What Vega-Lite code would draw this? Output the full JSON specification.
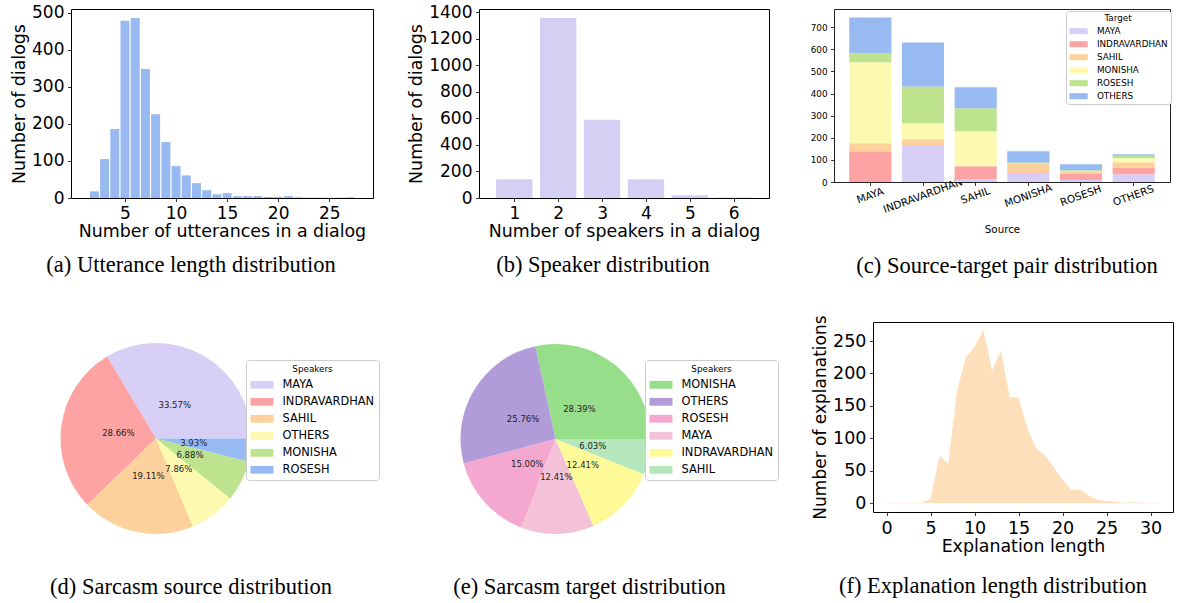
{
  "$schema": "https://vega.github.io/schema/vega-lite/v6.json",
  "background": "white",
  "padding": {"left": 10, "top": 2, "right": 0, "bottom": 0},
  "autosize": {"type": "pad"},
  "spacing": 35,
  "resolve": {"scale": {"color": "independent", "theta": "independent"}, "legend": {"color": "independent"}},
  "vconcat": [
    {
      "spacing": 33,
      "resolve": {"scale": {"color": "independent"}, "legend": {"color": "independent"}},
      "hconcat": [
        {
          "width": 302, "height": 189,
          "view": {"stroke": "#000", "strokeWidth": 1},
          "title": {"text": "(a) Utterance length distribution", "dx": -31, "offset": 15},
          "data": {"values": [
            {"utterances": 2, "dialogs": 18}, {"utterances": 3, "dialogs": 105}, {"utterances": 4, "dialogs": 186},
            {"utterances": 5, "dialogs": 478}, {"utterances": 6, "dialogs": 486}, {"utterances": 7, "dialogs": 348},
            {"utterances": 8, "dialogs": 226}, {"utterances": 9, "dialogs": 151}, {"utterances": 10, "dialogs": 86},
            {"utterances": 11, "dialogs": 61}, {"utterances": 12, "dialogs": 40}, {"utterances": 13, "dialogs": 21},
            {"utterances": 14, "dialogs": 10}, {"utterances": 15, "dialogs": 13}, {"utterances": 16, "dialogs": 5},
            {"utterances": 17, "dialogs": 5}, {"utterances": 18, "dialogs": 5}, {"utterances": 19, "dialogs": 3},
            {"utterances": 20, "dialogs": 3}, {"utterances": 21, "dialogs": 5}, {"utterances": 22, "dialogs": 2},
            {"utterances": 23, "dialogs": 1}, {"utterances": 24, "dialogs": 1}, {"utterances": 25, "dialogs": 1},
            {"utterances": 26, "dialogs": 1}, {"utterances": 27, "dialogs": 2}
          ]},
          "mark": {"type": "bar", "width": 9, "color": "#98b9f1"},
          "encoding": {
            "x": {"field": "utterances", "type": "quantitative",
                  "scale": {"domain": [0.2, 28.8], "nice": false, "zero": false},
                  "axis": {"values": [5, 10, 15, 20, 25], "title": "Number of utterances in a dialog", "labelFontSize": 17, "titleFontSize": 17.4, "titlePadding": 1}},
            "y": {"field": "dialogs", "type": "quantitative",
                  "scale": {"domain": [0, 510], "nice": false},
                  "axis": {"values": [0, 100, 200, 300, 400, 500], "title": "Number of dialogs", "labelFontSize": 17, "titleFontSize": 17.4}}
          }
        },
        {
          "spacing": 39,
          "resolve": {"scale": {"color": "independent"}, "legend": {"color": "independent"}},
          "hconcat": [
            {
              "width": 290, "height": 189,
              "view": {"stroke": "#000", "strokeWidth": 1},
              "title": {"text": "(b) Speaker distribution", "dx": -21, "offset": 15},
              "data": {"values": [
                {"speakers": 1, "dialogs": 142}, {"speakers": 2, "dialogs": 1355}, {"speakers": 3, "dialogs": 589},
                {"speakers": 4, "dialogs": 142}, {"speakers": 5, "dialogs": 20}, {"speakers": 6, "dialogs": 3}
              ]},
              "mark": {"type": "bar", "width": 36.4, "color": "#d6cff4"},
              "encoding": {
                "x": {"field": "speakers", "type": "quantitative",
                      "scale": {"domain": [0.31, 6.69], "nice": false, "zero": false},
                      "axis": {"values": [1, 2, 3, 4, 5, 6], "title": "Number of speakers in a dialog", "labelFontSize": 17, "titleFontSize": 17.4, "titlePadding": 1}},
                "y": {"field": "dialogs", "type": "quantitative",
                      "scale": {"domain": [0, 1423], "nice": false},
                      "axis": {"values": [0, 200, 400, 600, 800, 1000, 1200, 1400], "format": "d", "title": "Number of dialogs", "labelFontSize": 17, "titleFontSize": 17.4}}
              }
            },
            {
              "width": 336, "height": 173,
              "view": {"stroke": "#222", "strokeWidth": 1},
              "title": {"text": "(c) Source-target pair distribution", "dx": 5, "offset": 20},
              "data": {"values": [
                {"Source": "MAYA", "Target": "MAYA", "count": 0},
                {"Source": "MAYA", "Target": "INDRAVARDHAN", "count": 139},
                {"Source": "MAYA", "Target": "SAHIL", "count": 36},
                {"Source": "MAYA", "Target": "MONISHA", "count": 366},
                {"Source": "MAYA", "Target": "ROSESH", "count": 40},
                {"Source": "MAYA", "Target": "OTHERS", "count": 163},
                {"Source": "INDRAVARDHAN", "Target": "MAYA", "count": 163},
                {"Source": "INDRAVARDHAN", "Target": "INDRAVARDHAN", "count": 0},
                {"Source": "INDRAVARDHAN", "Target": "SAHIL", "count": 30},
                {"Source": "INDRAVARDHAN", "Target": "MONISHA", "count": 72},
                {"Source": "INDRAVARDHAN", "Target": "ROSESH", "count": 167},
                {"Source": "INDRAVARDHAN", "Target": "OTHERS", "count": 199},
                {"Source": "SAHIL", "Target": "MAYA", "count": 12},
                {"Source": "SAHIL", "Target": "INDRAVARDHAN", "count": 59},
                {"Source": "SAHIL", "Target": "SAHIL", "count": 0},
                {"Source": "SAHIL", "Target": "MONISHA", "count": 158},
                {"Source": "SAHIL", "Target": "ROSESH", "count": 104},
                {"Source": "SAHIL", "Target": "OTHERS", "count": 95},
                {"Source": "MONISHA", "Target": "MAYA", "count": 40},
                {"Source": "MONISHA", "Target": "INDRAVARDHAN", "count": 4},
                {"Source": "MONISHA", "Target": "SAHIL", "count": 37},
                {"Source": "MONISHA", "Target": "MONISHA", "count": 2},
                {"Source": "MONISHA", "Target": "ROSESH", "count": 5},
                {"Source": "MONISHA", "Target": "OTHERS", "count": 51},
                {"Source": "ROSESH", "Target": "MAYA", "count": 9},
                {"Source": "ROSESH", "Target": "INDRAVARDHAN", "count": 27},
                {"Source": "ROSESH", "Target": "SAHIL", "count": 9},
                {"Source": "ROSESH", "Target": "MONISHA", "count": 3},
                {"Source": "ROSESH", "Target": "ROSESH", "count": 5},
                {"Source": "ROSESH", "Target": "OTHERS", "count": 27},
                {"Source": "OTHERS", "Target": "MAYA", "count": 35},
                {"Source": "OTHERS", "Target": "INDRAVARDHAN", "count": 31},
                {"Source": "OTHERS", "Target": "SAHIL", "count": 23},
                {"Source": "OTHERS", "Target": "MONISHA", "count": 18},
                {"Source": "OTHERS", "Target": "ROSESH", "count": 12},
                {"Source": "OTHERS", "Target": "OTHERS", "count": 6}
              ]},
              "transform": [
                {"calculate": "indexof(['MAYA','INDRAVARDHAN','SAHIL','MONISHA','ROSESH','OTHERS'], datum.Target)", "as": "target_rank"}
              ],
              "mark": {"type": "bar"},
              "encoding": {
                "x": {"field": "Source", "type": "nominal",
                      "sort": ["MAYA", "INDRAVARDHAN", "SAHIL", "MONISHA", "ROSESH", "OTHERS"],
                      "scale": {"paddingInner": 0.2, "paddingOuter": 0.29},
                      "axis": {"title": "Source", "labelAngle": -20, "labelAlign": "center", "labelBaseline": "middle",
                               "labelFontSize": 10.4, "titleFontSize": 10.3, "labelPadding": 10, "titlePadding": 10,
                               "encode": {"labels": {"update": {"dy": {"signal": "length(datum.label)*1.2"}, "dx": {"signal": "-length(datum.label)*0.44"}}}}}},
                "y": {"field": "count", "type": "quantitative", "stack": "zero",
                      "scale": {"domain": [0, 782], "nice": false},
                      "axis": {"values": [0, 100, 200, 300, 400, 500, 600, 700], "title": null, "labelFontSize": 8.8}},
                "color": {"field": "Target", "type": "nominal",
                          "scale": {"domain": ["MAYA", "INDRAVARDHAN", "SAHIL", "MONISHA", "ROSESH", "OTHERS"],
                                    "range": ["#d7cff5", "#fea3a3", "#fdd19b", "#fef9b1", "#bde38e", "#98baf2"]},
                          "legend": {"title": "Target", "legendX": 232, "legendY": 2, "titleFontSize": 8.8, "titlePadding": 4,
                                     "labelFontSize": 8.8, "symbolType": "M-2.29,-0.75H2.29V0.75H-2.29Z", "symbolSize": 64,
                                     "symbolOffset": 5.15, "labelOffset": 14, "rowPadding": 3, "padding": 3}},
                "order": {"field": "target_rank", "type": "quantitative", "sort": "ascending"}
              }
            }
          ]
        }
      ]
    },
    {
      "spacing": 32,
      "resolve": {"scale": {"color": "independent", "theta": "independent"}, "legend": {"color": "independent"}},
      "hconcat": [
        {
          "width": 170, "height": 233,
          "title": {"text": "(d) Sarcasm source distribution", "dx": 35, "offset": 21},
          "data": {"values": [
            {"speaker": "MAYA", "share": 0.3357},
            {"speaker": "INDRAVARDHAN", "share": 0.2866},
            {"speaker": "SAHIL", "share": 0.1911},
            {"speaker": "OTHERS", "share": 0.0786},
            {"speaker": "MONISHA", "share": 0.0688},
            {"speaker": "ROSESH", "share": 0.0393}
          ]},
          "encoding": {
            "theta": {"field": "share", "type": "quantitative", "stack": true, "scale": {"range": [1.5708, -4.7124]}},
            "color": {"field": "speaker", "type": "nominal",
                      "scale": {"domain": ["MAYA", "INDRAVARDHAN", "SAHIL", "OTHERS", "MONISHA", "ROSESH"],
                                "range": ["#d7cff5", "#fea3a3", "#fdd19b", "#fef9b1", "#bde38e", "#98baf2"]},
                      "legend": {"title": "Speakers", "legendX": 175, "legendY": 38, "titleFontSize": 8.8, "titlePadding": 0,
                                 "labelFontSize": 11.4, "symbolSize": 529, "labelOffset": 9, "rowPadding": -0.4, "padding": 4.5}},
            "order": {"field": "share", "type": "quantitative", "sort": "descending"}
          },
          "layer": [
            {"mark": {"type": "arc", "outerRadius": 95.5}},
            {"mark": {"type": "text", "radius": 38, "fontSize": 8.5},
             "encoding": {"text": {"field": "share", "type": "quantitative", "format": ".2%"}, "color": {"value": "#222"}}}
          ]
        },
        {
          "width": 287, "height": 234,
          "title": {"text": "(e) Sarcasm target distribution", "dx": 34, "offset": 20},
          "data": {"values": [
            {"speaker": "MONISHA", "share": 0.2839},
            {"speaker": "OTHERS", "share": 0.2576},
            {"speaker": "ROSESH", "share": 0.1500},
            {"speaker": "MAYA", "share": 0.1241},
            {"speaker": "INDRAVARDHAN", "share": 0.1241},
            {"speaker": "SAHIL", "share": 0.0603}
          ]},
          "encoding": {
            "theta": {"field": "share", "type": "quantitative", "stack": true, "scale": {"range": [1.5708, -4.7124]}},
            "color": {"field": "speaker", "type": "nominal",
                      "scale": {"domain": ["MONISHA", "OTHERS", "ROSESH", "MAYA", "INDRAVARDHAN", "SAHIL"],
                                "range": ["#97de8b", "#b19cd9", "#f4a7cf", "#f4c2d8", "#fdfa97", "#b6e6bc"]},
                      "legend": {"title": "Speakers", "legendX": 233, "legendY": 38, "titleFontSize": 8.8, "titlePadding": 0,
                                 "labelFontSize": 11.4, "symbolSize": 529, "labelOffset": 9, "rowPadding": -0.4, "padding": 4.5}},
            "order": {"field": "share", "type": "quantitative", "sort": "descending"}
          },
          "layer": [
            {"mark": {"type": "arc", "outerRadius": 95}},
            {"mark": {"type": "text", "radius": 38, "fontSize": 8.5},
             "encoding": {"text": {"field": "share", "type": "quantitative", "format": ".2%"}, "color": {"value": "#222"}}}
          ]
        },
        {
          "width": 300, "height": 190,
          "view": {"stroke": "#000", "strokeWidth": 1},
          "title": {"text": "(f) Explanation length distribution", "dx": -30, "offset": 20},
          "data": {"values": [
            {"length": 0, "explanations": 1}, {"length": 1, "explanations": 1}, {"length": 2, "explanations": 1},
            {"length": 3, "explanations": 1}, {"length": 4, "explanations": 1}, {"length": 5, "explanations": 7},
            {"length": 6, "explanations": 73}, {"length": 7, "explanations": 61}, {"length": 8, "explanations": 173},
            {"length": 9, "explanations": 225}, {"length": 10, "explanations": 241}, {"length": 11, "explanations": 267},
            {"length": 12, "explanations": 205}, {"length": 13, "explanations": 235}, {"length": 14, "explanations": 163},
            {"length": 15, "explanations": 163}, {"length": 16, "explanations": 116}, {"length": 17, "explanations": 85},
            {"length": 18, "explanations": 74}, {"length": 19, "explanations": 56}, {"length": 20, "explanations": 36},
            {"length": 21, "explanations": 21}, {"length": 22, "explanations": 21}, {"length": 23, "explanations": 12},
            {"length": 24, "explanations": 5}, {"length": 25, "explanations": 4}, {"length": 26, "explanations": 3},
            {"length": 27, "explanations": 1}, {"length": 28, "explanations": 2}, {"length": 29, "explanations": 1},
            {"length": 30, "explanations": 1}, {"length": 31, "explanations": 0.5}
          ]},
          "mark": {"type": "area", "color": "#fde0bb"},
          "encoding": {
            "x": {"field": "length", "type": "quantitative",
                  "scale": {"domain": [-1.55, 32.55], "nice": false, "zero": false},
                  "axis": {"values": [0, 5, 10, 15, 20, 25, 30], "title": "Explanation length", "labelFontSize": 17.5, "titleFontSize": 17.4, "titlePadding": 1}},
            "y": {"field": "explanations", "type": "quantitative", "stack": null,
                  "scale": {"domain": [-13.3, 279.3], "nice": false, "zero": false},
                  "axis": {"values": [0, 50, 100, 150, 200, 250], "title": "Number of explanations", "labelFontSize": 17.5, "titleFontSize": 17}},
            "y2": {"datum": 0}
          }
        }
      ]
    }
  ],
  "config": {
    "font": "DejaVu Sans",
    "view": {"stroke": null},
    "axis": {"domain": false, "grid": false, "tickColor": "#000", "tickSize": 3.5, "tickWidth": 0.8,
             "labelColor": "#000", "titleColor": "#000", "titleFontWeight": "normal",
             "labelPadding": 3.5, "titlePadding": 3, "labelOverlap": false, "labelFont": "DejaVu Sans", "titleFont": "DejaVu Sans"},
    "title": {"font": "Liberation Serif", "fontSize": 22.5, "fontWeight": "normal", "color": "#000",
              "orient": "bottom", "frame": "group", "anchor": "middle"},
    "legend": {"orient": "none", "titleFontWeight": "normal", "titleColor": "#000", "labelColor": "#000",
               "labelFont": "DejaVu Sans", "titleFont": "DejaVu Sans",
               "fillColor": "white", "strokeColor": "#cccccc", "cornerRadius": 3, "symbolStrokeWidth": 0,
               "titleAnchor": "middle", "symbolType": "M-1,-0.34H1V0.34H-1Z", "symbolOpacity": 1}
  }
}
